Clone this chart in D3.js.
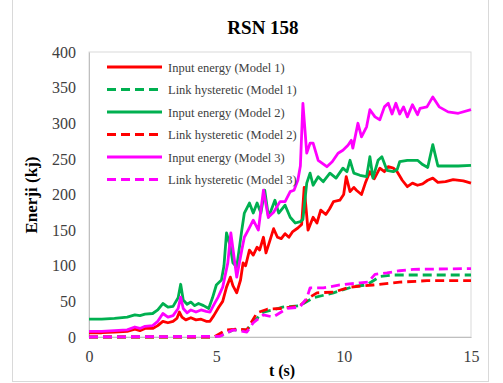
<!DOCTYPE html>
<html>
<head>
<meta charset="utf-8">
<script src="https://cdn.jsdelivr.net/npm/d3@7"></script>
<style>
  body { margin: 0; background: #fff; }
  svg text { font-family: "Liberation Serif", "Times New Roman", serif; }
</style>
</head>
<body>
<svg id="chart" width="503" height="383"></svg>
<script>
// values, [t (s), energy (kj)]
var inputModel1 = [[0,6],[0.5,6],[1,7],[1.5,8],[1.8,11],[2.0,9],[2.2,12],[2.5,12],[2.7,16],[2.9,22],[3.1,20],[3.3,22],[3.45,26],[3.55,35],[3.65,28],[3.8,24],[4.0,27],[4.2,24],[4.4,25],[4.6,22],[4.75,22],[4.9,30],[5.1,42],[5.25,50],[5.4,70],[5.55,84],[5.65,72],[5.8,62],[5.95,80],[6.05,104],[6.15,100],[6.3,122],[6.45,115],[6.6,126],[6.7,122],[6.85,140],[6.95,118],[7.1,135],[7.25,152],[7.4,140],[7.55,138],[7.7,145],[7.85,140],[8.0,148],[8.2,153],[8.35,158],[8.45,210],[8.6,150],[8.8,168],[8.95,160],[9.1,178],[9.3,172],[9.45,180],[9.6,190],[9.85,192],[10.0,200],[10.1,225],[10.25,204],[10.4,210],[10.5,206],[10.7,200],[10.85,216],[11.03,232],[11.2,222],[11.42,237],[11.6,232],[11.75,239],[11.95,237],[12.1,232],[12.3,220],[12.5,211],[12.7,216],[12.9,213],[13.1,215],[13.3,220],[13.5,223],[13.7,217],[14.0,218],[14.3,221],[14.7,219],[15,216]];
var inputModel2 = [[0,25],[0.5,25],[1,26],[1.5,28],[1.8,31],[2.0,30],[2.2,32],[2.5,33],[2.7,38],[2.9,47],[3.1,42],[3.3,43],[3.5,55],[3.6,74],[3.7,52],[3.85,46],[4.0,49],[4.15,44],[4.3,47],[4.5,44],[4.7,40],[4.85,55],[5.0,73],[5.2,80],[5.3,100],[5.4,146],[5.55,127],[5.65,104],[5.8,98],[6.0,150],[6.1,174],[6.3,188],[6.45,174],[6.6,188],[6.75,174],[6.9,206],[7.05,168],[7.3,192],[7.45,174],[7.7,185],[7.9,168],[8.1,160],[8.3,162],[8.4,165],[8.55,216],[8.68,230],[8.8,213],[9.0,225],[9.2,218],[9.46,230],[9.7,223],[9.97,237],[10.13,232],[10.25,248],[10.4,230],[10.64,227],[10.9,225],[11.03,253],[11.15,223],[11.35,248],[11.5,253],[11.7,234],[11.95,232],[12.1,235],[12.2,246],[12.5,248],[12.9,248],[13.1,242],[13.3,238],[13.5,270],[13.7,240],[14.0,240],[14.5,240],[15,241]];
var inputModel3 = [[0,8],[0.5,8],[1,9],[1.5,10],[1.8,14],[2.0,12],[2.2,15],[2.5,16],[2.7,22],[2.9,33],[3.1,28],[3.3,30],[3.5,40],[3.6,56],[3.7,40],[3.85,34],[4.0,38],[4.2,35],[4.4,38],[4.6,36],[4.75,35],[4.9,45],[5.07,56],[5.25,70],[5.45,104],[5.57,146],[5.66,122],[5.8,84],[6.0,122],[6.1,140],[6.25,150],[6.45,164],[6.65,150],[6.85,206],[7.04,168],[7.25,175],[7.5,190],[7.7,190],[7.9,204],[8.05,206],[8.2,220],[8.3,240],[8.4,328],[8.55,258],[8.68,272],[8.8,272],[9.0,248],[9.34,239],[9.55,246],[9.78,258],[9.97,262],[10.17,269],[10.3,276],[10.36,265],[10.56,300],[10.7,281],[10.9,295],[11.03,319],[11.23,309],[11.42,305],[11.6,323],[11.75,328],[11.9,313],[12.05,328],[12.2,313],[12.35,323],[12.5,309],[12.7,326],[12.9,312],[13.0,321],[13.27,323],[13.5,337],[13.75,323],[14.1,316],[14.5,314],[15,319]];
var linkModel1 = [[0,0],[4.9,0],[5.26,3],[5.66,10],[6.2,10],[6.45,21],[6.85,35],[7.23,38],[7.6,42],[8.28,44],[8.8,55],[9.6,62],[10.4,71],[10.9,73],[11.43,85],[11.95,87],[15,87]];
var linkModel2 = [[0,0],[4.9,0],[5.4,10],[5.8,11],[6.2,10],[6.6,34],[7.0,39],[7.5,40],[8.28,44],[8.68,56],[8.95,62],[9.6,63],[10.25,70],[11.15,73],[12.2,77],[13.27,79],[15,79]];
var linkModel3 = [[0,0],[5.14,1],[5.66,10],[6.2,7],[6.45,20],[6.85,31],[7.23,28],[7.77,40],[8.28,42],[8.56,55],[8.68,69],[9.2,69],[9.85,73],[10.64,76],[10.96,77],[11.23,88],[11.7,90],[12.2,93],[12.73,95],[15,96]];

var seriesNames = ["Input energy (Model 1)", "Link hysteretic (Model 1)", "Input energy (Model 2)",
                   "Link hysteretic (Model 2)", "Input energy (Model 3)", "Link hysteretic (Model 3)"];
var xTicks = [0, 5, 10, 15];
var yTicks = [0, 50, 100, 150, 200, 250, 300, 350, 400];

var series = [
  { name: seriesNames[0], data: inputModel1, color: "#ff0000", dashed: false },
  { name: seriesNames[1], data: linkModel1, color: "#00b050", dashed: true },
  { name: seriesNames[2], data: inputModel2, color: "#00b050", dashed: false },
  { name: seriesNames[3], data: linkModel2, color: "#ff0000", dashed: true },
  { name: seriesNames[4], data: inputModel3, color: "#ff00ff", dashed: false },
  { name: seriesNames[5], data: linkModel3, color: "#ff00ff", dashed: true }
];

var svg = d3.select("#chart");
var plotLeft = 89, plotRight = 471, plotTop = 52, plotBottom = 337;
var serif = "'Liberation Serif', 'Times New Roman', serif";

var x = d3.scaleLinear().domain([0, 15]).range([plotLeft, plotRight]);
var y = d3.scaleLinear().domain([0, 400]).range([plotBottom, plotTop]);

// outer chart frame
svg.append("rect")
  .attr("x", 12.5).attr("y", -2)
  .attr("width", 476).attr("height", 383.5)
  .attr("fill", "none").attr("stroke", "#d9d9d9");

// plot frame
svg.append("rect")
  .attr("x", plotLeft).attr("y", plotTop)
  .attr("width", plotRight - plotLeft).attr("height", plotBottom - plotTop)
  .attr("fill", "none").attr("stroke", "#d9d9d9");

svg.append("text")
  .attr("x", 263).attr("y", 34)
  .attr("text-anchor", "middle")
  .style("font-family", serif)
  .style("font-size", "19px").style("font-weight", "bold")
  .attr("fill", "#000")
  .text("RSN 158");

var yAxis = svg.append("g")
  .attr("transform", "translate(" + plotLeft + ",0)")
  .call(d3.axisLeft(y).tickValues(yTicks).tickSize(0).tickPadding(13));
yAxis.select(".domain").attr("stroke", "#bfbfbf");
yAxis.selectAll("text").style("font-size", "16px").attr("fill", "#404040")
  .style("font-family", serif);

var xAxis = svg.append("g")
  .attr("transform", "translate(0," + plotBottom + ")")
  .call(d3.axisBottom(x).tickValues(xTicks).tickSize(0).tickPadding(14));
xAxis.select(".domain").attr("stroke", "#bfbfbf");
xAxis.selectAll("text").style("font-size", "16px").attr("fill", "#404040")
  .style("font-family", serif);

svg.append("text")
  .attr("x", 282).attr("y", 376)
  .attr("text-anchor", "middle")
  .style("font-family", serif)
  .style("font-size", "16px").style("font-weight", "bold")
  .text("t (s)");

svg.append("text")
  .attr("transform", "translate(37,195) rotate(-90)")
  .attr("text-anchor", "middle")
  .style("font-family", serif)
  .style("font-size", "17px").style("font-weight", "bold")
  .text("Enerji (kj)");

var line = d3.line()
  .x(function (d) { return x(d[0]); })
  .y(function (d) { return y(d[1]); });

svg.selectAll(".series")
  .data(series)
  .enter()
  .append("path")
  .attr("class", "series")
  .attr("d", function (d) { return line(d.data); })
  .attr("fill", "none")
  .attr("stroke", function (d) { return d.color; })
  .attr("stroke-width", 2.8)
  .attr("stroke-linejoin", "round")
  .attr("stroke-dasharray", function (d) { return d.dashed ? "9,5" : null; });

// legend
var legend = svg.selectAll(".legend")
  .data(series)
  .enter()
  .append("g")
  .attr("class", "legend")
  .attr("transform", function (d, i) { return "translate(107," + (67 + i * 22.5) + ")"; });

legend.append("line")
  .attr("x1", 0).attr("x2", 55)
  .attr("stroke", function (d) { return d.color; })
  .attr("stroke-width", 2.8)
  .attr("stroke-dasharray", function (d) { return d.dashed ? "9,5" : null; });

legend.append("text")
  .attr("x", 61).attr("y", 4.5)
  .style("font-family", serif)
  .style("font-size", "12.5px")
  .attr("fill", "#404040")
  .text(function (d) { return d.name; });
</script>
</body>
</html>
